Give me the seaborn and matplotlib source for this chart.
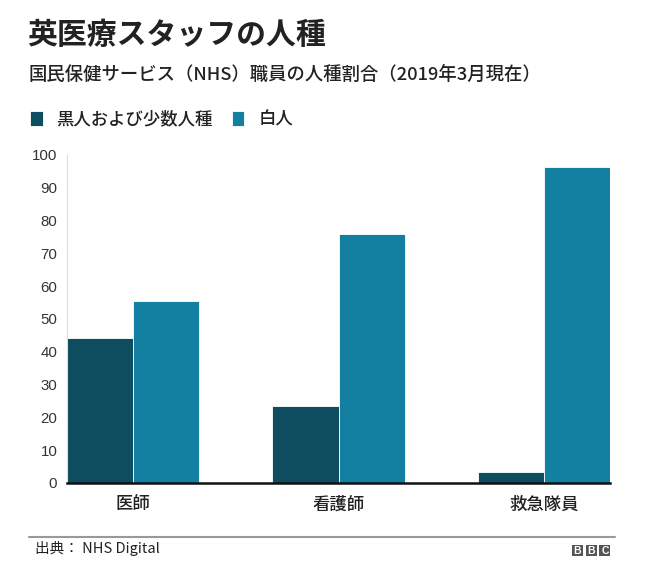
import pandas as pd
import matplotlib.pyplot as plt
import matplotlib.patches as mpatches
from matplotlib.lines import Line2D
import seaborn as sns

# ── Data ──────────────────────────────────────────────────────────────────
roles = ["医師", "看護師", "救急隊員"]
groups = ["黒人および少数人種", "白人"]
bame_pct = [44.2, 23.5, 3.4]
white_pct = [55.6, 76.0, 96.2]
y_ticks = [0, 10, 20, 30, 40, 50, 60, 70, 80, 90, 100]

title = "英医療スタッフの人種"
subtitle = "国民保健サービス（NHS）職員の人種割合（2019年3月現在）"
source = "出典： NHS Digital"

colors = ["#0e4d5f", "#1380a1"]

df = pd.DataFrame({
    "role": roles * 2,
    "group": [groups[0]] * len(roles) + [groups[1]] * len(roles),
    "pct": bame_pct + white_pct,
})

# ── Figure ────────────────────────────────────────────────────────────────
sns.set_theme(style="white")
plt.rcParams["font.family"] = ["Noto Sans CJK JP", "DejaVu Sans"]

W, H = 651, 579
fig = plt.figure(figsize=(W / 100, H / 100), dpi=100)
ax = fig.add_axes([67 / W, (H - 483) / H, 543 / W, 328 / H])

group_w = 0.645
sns.barplot(data=df, x="role", y="pct", hue="group", order=roles,
            hue_order=groups, palette=colors, width=group_w, saturation=1,
            edgecolor="white", linewidth=0.6, ax=ax)

ax.set_xlim(-group_w / 2, len(roles) - 1 + group_w / 2)
ax.set_ylim(0, 100)
ax.set_yticks(y_ticks)
ax.set_yticklabels([str(t) for t in y_ticks], family=["Liberation Sans"],
                   fontsize=10.8, color="#333333")
ax.set_xticks(range(len(roles)))
ax.set_xticklabels(roles, fontsize=12.5, color="#222222", weight="medium")
ax.tick_params(axis="y", length=0, pad=7)
ax.tick_params(axis="x", length=0, pad=9)
ax.set_xlabel("")
ax.set_ylabel("")

for side in ["top", "right"]:
    ax.spines[side].set_visible(False)
ax.spines["left"].set_color("#dddddd")
ax.spines["left"].set_linewidth(0.8)
ax.spines["bottom"].set_color("#111111")
ax.spines["bottom"].set_linewidth(1.8)
ax.spines["bottom"].set_zorder(5)

# ── Legend ────────────────────────────────────────────────────────────────
handles, labels = ax.get_legend_handles_labels()
ax.legend(handles, labels, loc="center left", ncol=2, frameon=False,
          bbox_to_anchor=(30 / W, 1 - 119 / H), bbox_transform=fig.transFigure,
          borderpad=0, borderaxespad=0, handlelength=0.72, handleheight=0.95,
          handletextpad=0.8, columnspacing=1.1,
          prop={"size": 12.5, "weight": "medium"}, labelcolor="#222222")

# ── Titles ────────────────────────────────────────────────────────────────
fig.text(27 / W, 1 - 35 / H, title, fontsize=21.5, weight="bold",
         color="#222222", va="center")
fig.text(29 / W, 1 - 75 / H, subtitle, fontsize=13.2, weight="medium",
         color="#222222", va="center")

# ── Footer ────────────────────────────────────────────────────────────────
fig.add_artist(Line2D([29 / W, 615 / W], [1 - 537 / H, 1 - 537 / H],
                      transform=fig.transFigure, color="#999999", lw=1.5))
fig.text(35 / W, 1 - 549 / H, source, fontsize=10.5, color="#222222",
         va="center")
for i, letter in enumerate("BBC"):
    x0 = 572 + i * 13.7
    fig.add_artist(mpatches.Rectangle((x0 / W, 1 - 556 / H), 11 / W, 11 / H,
                                      transform=fig.transFigure,
                                      color="#555555", lw=0))
    fig.text((x0 + 5.5) / W, 1 - 550.5 / H, letter, fontsize=7.5,
             family=["Liberation Sans"], weight="bold", color="white",
             ha="center", va="center")

fig.savefig("out.png", dpi=100)
